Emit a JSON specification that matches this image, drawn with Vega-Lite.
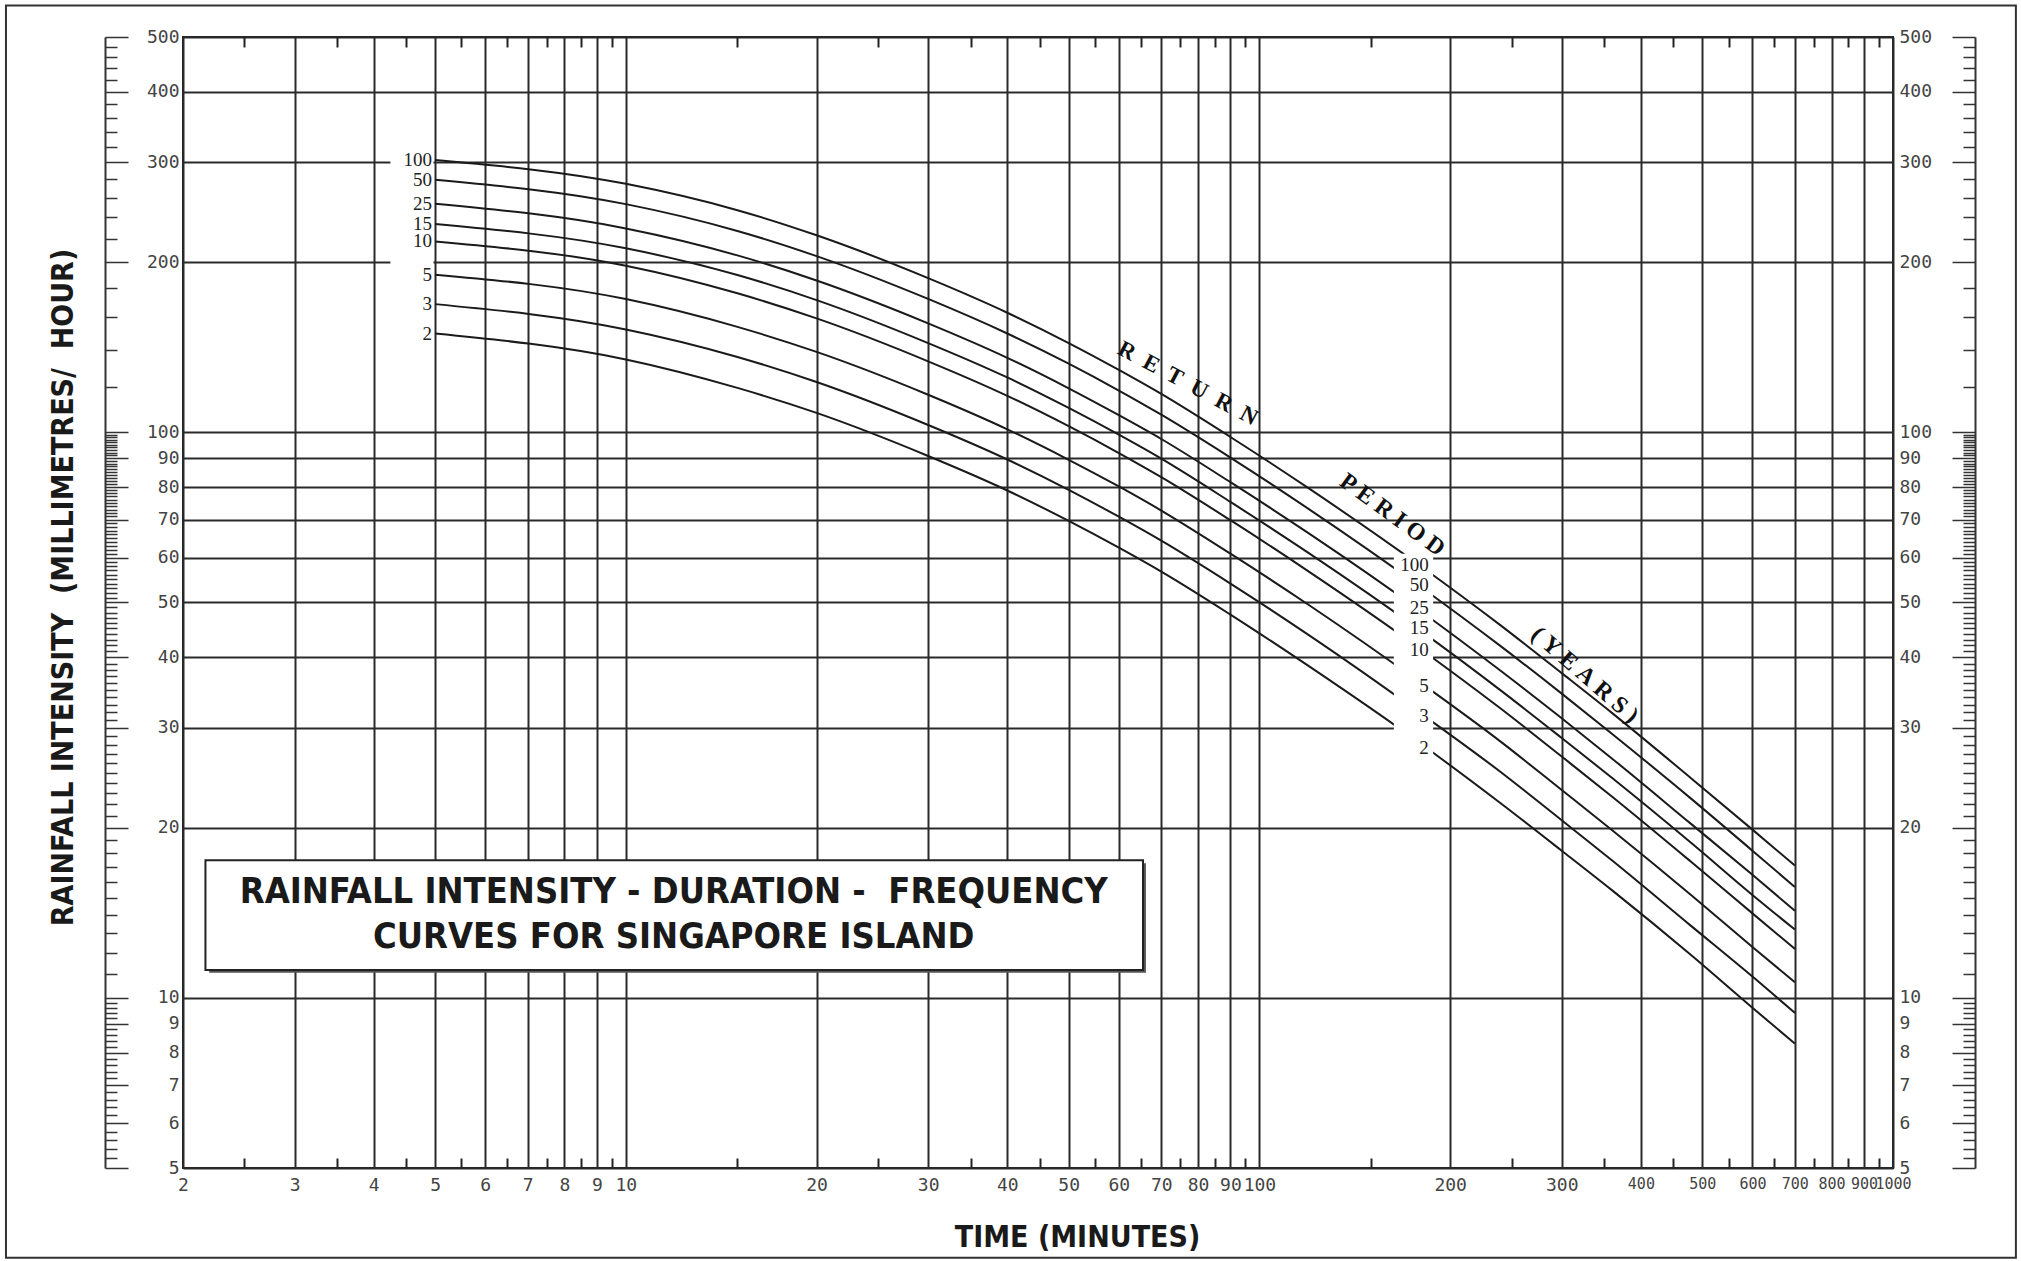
{
  "$schema": "https://vega.github.io/schema/vega-lite/v6.json",
  "width": 1710,
  "height": 1131,
  "autosize": "none",
  "padding": {"left": 183, "top": 37, "right": 128, "bottom": 93},
  "background": "white",
  "config": {"view": {"stroke": "#222", "strokeWidth": 2}},
  "resolve": {"scale": {"x": "shared", "y": "shared"}, "axis": {"x": "independent", "y": "independent"}},
  "datasets": {
    "curves": [
      {"rp":"100","t":5,"v":303},{"rp":"100","t":10,"v":275},{"rp":"100","t":15,"v":247},{"rp":"100","t":20,"v":223},{"rp":"100","t":30,"v":187.3},{"rp":"100","t":40,"v":162.7},{"rp":"100","t":50,"v":143.8},{"rp":"100","t":60,"v":128.9},{"rp":"100","t":70,"v":116.9},{"rp":"100","t":90,"v":98.1},{"rp":"100","t":120,"v":79.4},{"rp":"100","t":180,"v":57.9},{"rp":"100","t":240,"v":45.6},{"rp":"100","t":300,"v":37.5},{"rp":"100","t":360,"v":31.9},{"rp":"100","t":480,"v":24.45},{"rp":"100","t":600,"v":19.83},{"rp":"100","t":700,"v":17.13},
      {"rp":"50","t":5,"v":279.5},{"rp":"50","t":10,"v":253.2},{"rp":"50","t":15,"v":227.0},{"rp":"50","t":20,"v":204.9},{"rp":"50","t":30,"v":172.1},{"rp":"50","t":40,"v":149.5},{"rp":"50","t":50,"v":132.2},{"rp":"50","t":60,"v":118.5},{"rp":"50","t":70,"v":107.4},{"rp":"50","t":90,"v":90.2},{"rp":"50","t":120,"v":73.0},{"rp":"50","t":180,"v":53.2},{"rp":"50","t":240,"v":41.9},{"rp":"50","t":300,"v":34.5},{"rp":"50","t":360,"v":29.3},{"rp":"50","t":480,"v":22.5},{"rp":"50","t":600,"v":18.2},{"rp":"50","t":700,"v":15.7},
      {"rp":"25","t":5,"v":253.5},{"rp":"25","t":10,"v":229.3},{"rp":"25","t":15,"v":205.5},{"rp":"25","t":20,"v":185.5},{"rp":"25","t":30,"v":155.8},{"rp":"25","t":40,"v":135.4},{"rp":"25","t":50,"v":119.6},{"rp":"25","t":60,"v":107.2},{"rp":"25","t":70,"v":97.3},{"rp":"25","t":90,"v":81.6},{"rp":"25","t":120,"v":66.1},{"rp":"25","t":180,"v":48.2},{"rp":"25","t":240,"v":37.9},{"rp":"25","t":300,"v":31.2},{"rp":"25","t":360,"v":26.5},{"rp":"25","t":480,"v":20.3},{"rp":"25","t":600,"v":16.5},{"rp":"25","t":700,"v":14.25},
      {"rp":"15","t":5,"v":233.5},{"rp":"15","t":10,"v":211.5},{"rp":"15","t":15,"v":189.7},{"rp":"15","t":20,"v":171.3},{"rp":"15","t":30,"v":143.8},{"rp":"15","t":40,"v":125.0},{"rp":"15","t":50,"v":110.4},{"rp":"15","t":60,"v":99.0},{"rp":"15","t":70,"v":89.8},{"rp":"15","t":90,"v":75.3},{"rp":"15","t":120,"v":61.0},{"rp":"15","t":180,"v":44.5},{"rp":"15","t":240,"v":35.0},{"rp":"15","t":300,"v":28.8},{"rp":"15","t":360,"v":24.5},{"rp":"15","t":480,"v":18.8},{"rp":"15","t":600,"v":15.2},{"rp":"15","t":700,"v":13.2},
      {"rp":"10","t":5,"v":217.5},{"rp":"10","t":10,"v":197.0},{"rp":"10","t":15,"v":176.1},{"rp":"10","t":20,"v":159.0},{"rp":"10","t":30,"v":133.5},{"rp":"10","t":40,"v":116.0},{"rp":"10","t":50,"v":102.5},{"rp":"10","t":60,"v":91.9},{"rp":"10","t":70,"v":83.3},{"rp":"10","t":90,"v":69.9},{"rp":"10","t":120,"v":56.6},{"rp":"10","t":180,"v":41.3},{"rp":"10","t":240,"v":32.5},{"rp":"10","t":300,"v":26.7},{"rp":"10","t":360,"v":22.7},{"rp":"10","t":480,"v":17.4},{"rp":"10","t":600,"v":14.1},{"rp":"10","t":700,"v":12.2},
      {"rp":"5","t":5,"v":190.0},{"rp":"5","t":10,"v":172.0},{"rp":"5","t":15,"v":153.6},{"rp":"5","t":20,"v":138.7},{"rp":"5","t":30,"v":116.5},{"rp":"5","t":40,"v":101.2},{"rp":"5","t":50,"v":89.4},{"rp":"5","t":60,"v":80.2},{"rp":"5","t":70,"v":72.7},{"rp":"5","t":90,"v":61.0},{"rp":"5","t":120,"v":49.4},{"rp":"5","t":180,"v":36.0},{"rp":"5","t":240,"v":28.4},{"rp":"5","t":300,"v":23.3},{"rp":"5","t":360,"v":19.8},{"rp":"5","t":480,"v":15.2},{"rp":"5","t":600,"v":12.3},{"rp":"5","t":700,"v":10.65},
      {"rp":"3","t":5,"v":168.5},{"rp":"3","t":10,"v":152.0},{"rp":"3","t":15,"v":135.9},{"rp":"3","t":20,"v":122.7},{"rp":"3","t":30,"v":103.0},{"rp":"3","t":40,"v":89.5},{"rp":"3","t":50,"v":79.1},{"rp":"3","t":60,"v":70.9},{"rp":"3","t":70,"v":64.3},{"rp":"3","t":90,"v":54.0},{"rp":"3","t":120,"v":43.7},{"rp":"3","t":180,"v":31.8},{"rp":"3","t":240,"v":25.1},{"rp":"3","t":300,"v":20.6},{"rp":"3","t":360,"v":17.5},{"rp":"3","t":480,"v":13.4},{"rp":"3","t":600,"v":10.9},{"rp":"3","t":700,"v":9.4},
      {"rp":"2","t":5,"v":149.5},{"rp":"2","t":10,"v":134.5},{"rp":"2","t":15,"v":119.8},{"rp":"2","t":20,"v":108.2},{"rp":"2","t":30,"v":90.8},{"rp":"2","t":40,"v":78.9},{"rp":"2","t":50,"v":69.7},{"rp":"2","t":60,"v":62.5},{"rp":"2","t":70,"v":56.7},{"rp":"2","t":90,"v":47.6},{"rp":"2","t":120,"v":38.5},{"rp":"2","t":180,"v":28.1},{"rp":"2","t":240,"v":22.1},{"rp":"2","t":300,"v":18.2},{"rp":"2","t":360,"v":15.5},{"rp":"2","t":480,"v":11.9},{"rp":"2","t":600,"v":9.6},{"rp":"2","t":700,"v":8.3}
    ],
    "leftLabels": [
      {"lab":"100","t":5,"v":303},{"lab":"50","t":5,"v":279.5},{"lab":"25","t":5,"v":253.5},{"lab":"15","t":5,"v":233.5},
      {"lab":"10","t":5,"v":217.5},{"lab":"5","t":5,"v":190.0},{"lab":"3","t":5,"v":168.5},{"lab":"2","t":5,"v":149.5}
    ],
    "midLabels": [
      {"lab":"100","t":185,"v":58.2},{"lab":"50","t":185,"v":53.7},{"lab":"25","t":185,"v":48.9},{"lab":"15","t":185,"v":45.1},
      {"lab":"10","t":185,"v":41.2},{"lab":"5","t":185,"v":35.6},{"lab":"3","t":185,"v":31.5},{"lab":"2","t":185,"v":27.6}
    ],
    "boxes": [
      {"kind":"frame","x1":1.051,"x2":1563,"y1":568.6,"y2":3.47},
      {"kind":"shadow","x1":2.2,"x2":66.2,"y1":17.3,"y2":11.07},
      {"kind":"titlebox","x1":2.17,"x2":65.5,"y1":17.5,"y2":11.2},
      {"kind":"whiteLeft","x1":4.25,"x2":4.97,"y1":318,"y2":143}
    ],
    "whiteMid": [{"x1":163,"x2":188,"y1":61,"y2":26.5}],
    "titleText": [
      {"lab":"RAINFALL INTENSITY - DURATION -\u00a0\u00a0FREQUENCY","t":11.9,"v":15.4},
      {"lab":"CURVES FOR SINGAPORE ISLAND","t":11.9,"v":12.8}
    ],
    "rpText": [
      {"lab":"R\u00a0\u00a0E\u00a0\u00a0T\u00a0\u00a0U\u00a0\u00a0R\u00a0\u00a0N","t":77.1,"v":122,"ang":28,"fs":23},
      {"lab":"P\u00a0E\u00a0R\u00a0I\u00a0O\u00a0D","t":162,"v":71.4,"ang":36,"fs":24},
      {"lab":"(\u00a0Y\u00a0E\u00a0A\u00a0R\u00a0S\u00a0)","t":326,"v":37.2,"ang":41,"fs":24}
    ]
  },
  "layer": [
    {
      "data": {"name": "boxes"},
      "transform": [{"filter": "datum.kind === 'frame'"}],
      "mark": {"type": "rect", "filled": false, "stroke": "#333", "strokeWidth": 2, "clip": false},
      "encoding": {
        "x": {"field": "x1", "type": "quantitative", "scale": {"type": "log", "domain": [2, 1000], "nice": false}, "axis": null},
        "x2": {"field": "x2"},
        "y": {"field": "y1", "type": "quantitative", "scale": {"type": "log", "domain": [5, 500], "nice": false}, "axis": null},
        "y2": {"field": "y2"}
      }
    },
    {
      "data": {"name": "boxes"},
      "transform": [{"filter": "datum.kind === 'shadow'"}],
      "mark": {"type": "rect", "fill": "#555"},
      "encoding": {
        "x": {"field": "x1", "type": "quantitative", "scale": {"type": "log", "domain": [2, 1000], "nice": false}, "axis": null},
        "x2": {"field": "x2"},
        "y": {"field": "y1", "type": "quantitative", "scale": {"type": "log", "domain": [5, 500], "nice": false}, "axis": null},
        "y2": {"field": "y2"}
      }
    },
    {
      "data": {"name": "boxes"},
      "transform": [{"filter": "datum.kind === 'titlebox'"}],
      "mark": {"type": "rect", "fill": "white", "stroke": "#222", "strokeWidth": 2},
      "encoding": {
        "x": {"field": "x1", "type": "quantitative", "scale": {"type": "log", "domain": [2, 1000], "nice": false}, "axis": null},
        "x2": {"field": "x2"},
        "y": {"field": "y1", "type": "quantitative", "scale": {"type": "log", "domain": [5, 500], "nice": false}, "axis": null},
        "y2": {"field": "y2"}
      }
    },
    {
      "data": {"name": "boxes"},
      "transform": [{"filter": "datum.kind === 'whiteLeft'"}],
      "mark": {"type": "rect", "fill": "white"},
      "encoding": {
        "x": {"field": "x1", "type": "quantitative", "scale": {"type": "log", "domain": [2, 1000], "nice": false}, "axis": null},
        "x2": {"field": "x2"},
        "y": {"field": "y1", "type": "quantitative", "scale": {"type": "log", "domain": [5, 500], "nice": false}, "axis": null},
        "y2": {"field": "y2"}
      }
    },
    {
      "data": {"name": "curves"},
      "mark": {"type": "line", "interpolate": "monotone", "color": "#1a1a1a", "strokeWidth": 2},
      "encoding": {
        "detail": {"field": "rp"},
        "x": {
          "field": "t", "type": "quantitative",
          "scale": {"type": "log", "domain": [2, 1000], "nice": false},
          "axis": {
            "orient": "bottom",
            "values": [2,3,4,5,6,7,8,9,10,20,30,40,50,60,70,80,90,100,200,300,400,500,600,700,800,900,1000],
            "format": "d",
            "labelFont": "DejaVu Sans Mono",
            "labelFontSize": {"condition": {"test": "datum.value >= 400", "value": 15}, "value": 18},
            "labelColor": "#444",
            "labelPadding": 8,
            "labelOverlap": false,
            "labelFlush": false,
            "ticks": false,
            "domain": false,
            "grid": true,
            "gridColor": "#2a2a2a",
            "gridWidth": 2,
            "title": "TIME (MINUTES)",
            "titleFont": "DejaVu Sans Condensed",
            "titleFontWeight": "bold",
            "titleFontSize": 30,
            "titleColor": "#1a1a1a",
            "titleX": 894,
            "titleAlign": "center",
            "titlePadding": 28
          }
        },
        "y": {
          "field": "v", "type": "quantitative",
          "scale": {"type": "log", "domain": [5, 500], "nice": false},
          "axis": {
            "orient": "left",
            "values": [500,400,300,200,100,90,80,70,60,50,40,30,20,10,9,8,7,6,5],
            "format": "d",
            "labelFont": "DejaVu Sans Mono",
            "labelFontSize": 18,
            "labelColor": "#444",
            "labelPadding": 4,
            "labelOverlap": false,
            "labelFlush": false,
            "ticks": false,
            "domain": false,
            "grid": true,
            "gridColor": "#2a2a2a",
            "gridWidth": 2,
            "gridOpacity": {"condition": {"test": "datum.value > 5 && datum.value < 10", "value": 0}, "value": 1},
            "title": "RAINFALL INTENSITY\u00a0\u00a0(MILLIMETRES/\u00a0\u00a0HOUR)",
            "titleFont": "DejaVu Sans Condensed",
            "titleFontWeight": "bold",
            "titleFontSize": 30,
            "titleColor": "#1a1a1a",
            "titleAngle": -90,
            "titleX": -120,
            "titleY": 550,
            "titleAlign": "center",
            "titleBaseline": "middle"
          }
        }
      }
    },
    {
      "data": {"name": "whiteMid"},
      "mark": {"type": "rect", "fill": "white"},
      "encoding": {
        "x": {
          "field": "x1", "type": "quantitative",
          "scale": {"type": "log", "domain": [2, 1000], "nice": false},
          "axis": {
            "orient": "bottom",
            "values": [2.5,3.5,4.5,5.5,6.5,7.5,8.5,9.5,15,25,35,45,55,65,75,85,95,150,250,350,450,550,650,750,850,950],
            "labels": false, "domain": false, "grid": false,
            "ticks": true, "tickSize": -10, "tickColor": "#222", "tickWidth": 2,
            "title": null
          }
        },
        "x2": {"field": "x2"},
        "y": {
          "field": "y1", "type": "quantitative",
          "scale": {"type": "log", "domain": [5, 500], "nice": false},
          "axis": {
            "orient": "left",
            "offset": 78,
            "values": [5,5.2,5.4,5.6,5.8,6,6.2,6.4,6.6,6.8,7,7.2,7.4,7.6,7.8,8,8.2,8.4,8.6,8.8,9,9.2,9.4,9.6,9.8,10,11,12,13,14,15,16,17,18,19,20,21,22,23,24,25,26,27,28,29,30,31,32,33,34,35,36,37,38,39,40,41,42,43,44,45,46,47,48,49,50,51,52,53,54,55,56,57,58,59,60,61,62,63,64,65,66,67,68,69,70,71,72,73,74,75,76,77,78,79,80,81,82,83,84,85,86,87,88,89,90,91,92,93,94,95,96,97,98,99,100,120,140,160,180,200,220,240,260,280,300,320,340,360,380,400,420,440,460,480,500],
            "labels": false, "grid": false,
            "domain": true, "domainColor": "#333", "domainWidth": 2,
            "ticks": true, "tickColor": "#333", "tickWidth": 1.5,
            "tickSize": {"condition": {"test": "indexof([5,6,7,8,9,10,20,30,40,50,60,70,80,90,100,200,300,400,500], datum.value) >= 0", "value": -23}, "value": -12},
            "title": null
          }
        },
        "y2": {"field": "y2"}
      }
    },
    {
      "data": {"name": "leftLabels"},
      "mark": {"type": "text", "align": "right", "baseline": "middle", "dx": -3, "font": "Liberation Serif", "fontSize": 19, "color": "#222"},
      "encoding": {
        "text": {"field": "lab"},
        "x": {
          "field": "t", "type": "quantitative",
          "scale": {"type": "log", "domain": [2, 1000], "nice": false},
          "axis": {
            "orient": "top",
            "values": [2.5,3.5,4.5,5.5,6.5,7.5,8.5,9.5,15,25,35,45,55,65,75,85,95,150,250,350,450,550,650,750,850,950],
            "labels": false, "domain": false, "grid": false,
            "ticks": true, "tickSize": -10, "tickColor": "#222", "tickWidth": 2,
            "title": null
          }
        },
        "y": {
          "field": "v", "type": "quantitative",
          "scale": {"type": "log", "domain": [5, 500], "nice": false},
          "axis": {
            "orient": "right",
            "values": [500,400,300,200,100,90,80,70,60,50,40,30,20,10,9,8,7,6,5],
            "format": "d",
            "labelFont": "DejaVu Sans Mono",
            "labelFontSize": 18,
            "labelColor": "#444",
            "labelPadding": 6,
            "labelOverlap": false,
            "labelFlush": false,
            "ticks": false, "domain": false, "grid": false,
            "title": null
          }
        }
      }
    },
    {
      "data": {"name": "midLabels"},
      "mark": {"type": "text", "align": "right", "baseline": "middle", "font": "Liberation Serif", "fontSize": 19, "color": "#222"},
      "encoding": {
        "text": {"field": "lab"},
        "x": {"field": "t", "type": "quantitative", "scale": {"type": "log", "domain": [2, 1000], "nice": false}, "axis": null},
        "y": {
          "field": "v", "type": "quantitative",
          "scale": {"type": "log", "domain": [5, 500], "nice": false},
          "axis": {
            "orient": "right",
            "offset": 82,
            "values": [5,5.2,5.4,5.6,5.8,6,6.2,6.4,6.6,6.8,7,7.2,7.4,7.6,7.8,8,8.2,8.4,8.6,8.8,9,9.2,9.4,9.6,9.8,10,11,12,13,14,15,16,17,18,19,20,21,22,23,24,25,26,27,28,29,30,31,32,33,34,35,36,37,38,39,40,41,42,43,44,45,46,47,48,49,50,51,52,53,54,55,56,57,58,59,60,61,62,63,64,65,66,67,68,69,70,71,72,73,74,75,76,77,78,79,80,81,82,83,84,85,86,87,88,89,90,91,92,93,94,95,96,97,98,99,100,120,140,160,180,200,220,240,260,280,300,320,340,360,380,400,420,440,460,480,500],
            "labels": false, "grid": false,
            "domain": true, "domainColor": "#333", "domainWidth": 2,
            "ticks": true, "tickColor": "#333", "tickWidth": 1.5,
            "tickSize": {"condition": {"test": "indexof([5,6,7,8,9,10,20,30,40,50,60,70,80,90,100,200,300,400,500], datum.value) >= 0", "value": -23}, "value": -12},
            "title": null
          }
        }
      }
    },
    {
      "data": {"name": "titleText"},
      "mark": {"type": "text", "align": "center", "baseline": "middle", "font": "DejaVu Sans Condensed", "fontWeight": "bold", "fontSize": 36, "color": "#1a1a1a"},
      "encoding": {
        "text": {"field": "lab"},
        "x": {"field": "t", "type": "quantitative", "scale": {"type": "log", "domain": [2, 1000], "nice": false}, "axis": null},
        "y": {"field": "v", "type": "quantitative", "scale": {"type": "log", "domain": [5, 500], "nice": false}, "axis": null}
      }
    },
    {
      "data": {"name": "rpText"},
      "mark": {"type": "text", "align": "center", "baseline": "middle", "font": "Liberation Serif", "fontWeight": "bold", "color": "#111"},
      "encoding": {
        "text": {"field": "lab"},
        "size": {"field": "fs", "type": "quantitative", "scale": null},
        "angle": {"field": "ang", "type": "quantitative", "scale": null},
        "x": {"field": "t", "type": "quantitative", "scale": {"type": "log", "domain": [2, 1000], "nice": false}, "axis": null},
        "y": {"field": "v", "type": "quantitative", "scale": {"type": "log", "domain": [5, 500], "nice": false}, "axis": null}
      }
    }
  ]
}
